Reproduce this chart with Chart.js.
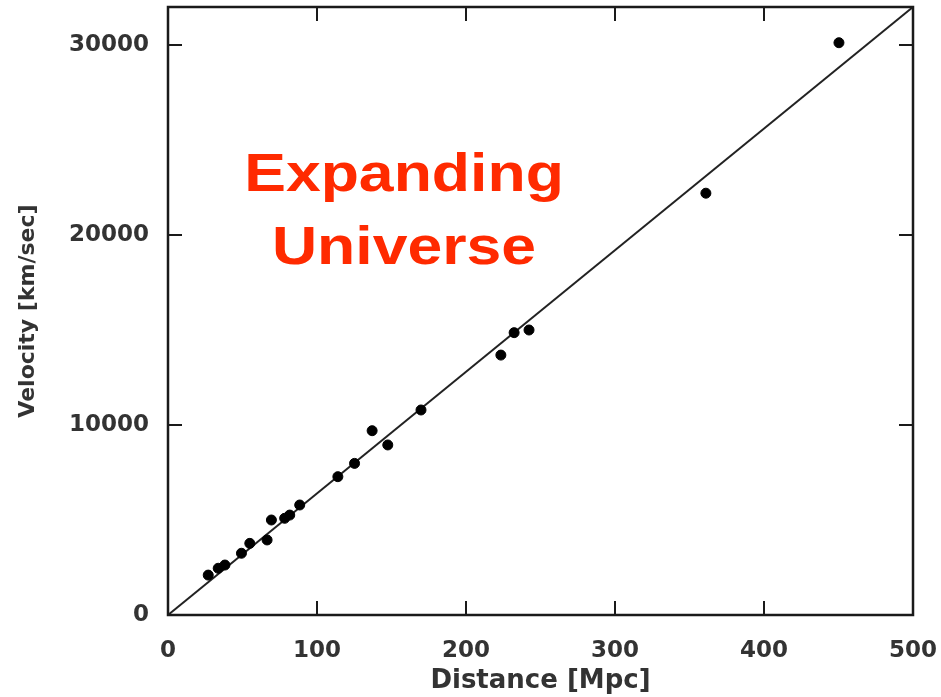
<!DOCTYPE html>
<html>
<head>
<meta charset="utf-8">
<script src="https://cdn.jsdelivr.net/npm/chart.js@4.4.1/dist/chart.umd.min.js"></script>
<style>
  html, body { margin: 0; padding: 0; background: #fff; }
  canvas { display: block; }
</style>
</head>
<body>
<canvas id="chart-hubble" width="941" height="697"></canvas>
<script>
// galaxy distances (Mpc) and recession velocities (km/sec)
const distance = [27, 33.7, 38.2, 49.3, 54.9, 66.5, 69.4, 78.3, 81.7, 88.4, 114, 125.2, 137, 147.5, 169.8, 223.4, 232.3, 242.3, 361, 450.3];
const velocity = [2100, 2460, 2630, 3250, 3770, 3950, 5000, 5090, 5260, 5790, 7280, 7980, 9700, 8950, 10790, 13680, 14860, 15000, 22200, 30120];

// straight-line fit through the origin
const fitDistance = [0, 500];
const fitVelocity = [0, 32000];

const xTicks = [0, 100, 200, 300, 400, 500];
const yTicks = [0, 10000, 20000, 30000];
const overlayLines = ['Expanding', 'Universe'];

const INK = '#1a1a1a';
const LABEL = '#333333';

// box round the plot with inward ticks on all four sides
const framePlugin = {
  id: 'frame',
  afterDatasetsDraw(chart) {
    const { ctx, chartArea: a, scales: { x, y } } = chart;
    const len = 14;
    ctx.save();
    ctx.strokeStyle = INK;
    ctx.lineWidth = 2.5;
    ctx.strokeRect(a.left, a.top, a.right - a.left, a.bottom - a.top);
    ctx.lineWidth = 2;
    ctx.beginPath();
    xTicks.forEach(v => {
      const px = x.getPixelForValue(v);
      ctx.moveTo(px, a.bottom); ctx.lineTo(px, a.bottom - len);
      ctx.moveTo(px, a.top); ctx.lineTo(px, a.top + len);
    });
    yTicks.forEach(v => {
      const py = y.getPixelForValue(v);
      ctx.moveTo(a.left, py); ctx.lineTo(a.left + len, py);
      ctx.moveTo(a.right, py); ctx.lineTo(a.right - len, py);
    });
    ctx.stroke();
    ctx.restore();
  }
};

// big red caption inside the plot
const captionPlugin = {
  id: 'caption',
  afterDraw(chart) {
    const { ctx } = chart;
    const baselines = [191, 264];
    ctx.save();
    ctx.fillStyle = '#ff2a00';
    ctx.font = 'bold 53px "Liberation Sans", Arial, sans-serif';
    ctx.textAlign = 'center';
    ctx.textBaseline = 'alphabetic';
    overlayLines.forEach((txt, i) => {
      ctx.save();
      ctx.translate(404, baselines[i]);
      ctx.scale(1.18, 1);
      ctx.fillText(txt, 0, 0);
      ctx.restore();
    });
    ctx.restore();
  }
};

const tickFont = { family: '"DejaVu Sans", sans-serif', size: 23, weight: 'bold' };
const plain = v => String(v);

new Chart(document.getElementById('chart-hubble'), {
  type: 'scatter',
  data: {
    datasets: [
      {
        label: 'Galaxies',
        data: distance.map((d, i) => ({ x: d, y: velocity[i] })),
        backgroundColor: '#000', borderColor: '#000',
        pointRadius: 5, pointBorderWidth: 1, pointStyle: 'circle'
      },
      {
        label: 'Fit',
        type: 'line',
        data: fitDistance.map((d, i) => ({ x: d, y: fitVelocity[i] })),
        borderColor: '#222', borderWidth: 2, pointRadius: 0, fill: false, tension: 0
      }
    ]
  },
  options: {
    responsive: false, animation: false, devicePixelRatio: 1,
    layout: { padding: { top: 7, right: 28, bottom: 0, left: 0 } },
    plugins: { legend: { display: false }, tooltip: { enabled: false } },
    scales: {
      x: {
        type: 'linear', min: 0, max: 500,
        grid: { display: false, drawTicks: false }, border: { display: false },
        afterBuildTicks: s => { s.ticks = xTicks.map(v => ({ value: v })); },
        afterFit: s => { s.height = 82; s.paddingLeft = 0; s.paddingRight = 0; },
        ticks: { color: LABEL, font: tickFont, padding: 22, maxRotation: 0, autoSkip: false, callback: plain },
        title: { display: true, text: 'Distance [Mpc]', color: LABEL, padding: { top: 0, bottom: 0 },
                 font: { family: '"DejaVu Sans", sans-serif', size: 26, weight: 'bold' } }
      },
      y: {
        type: 'linear', min: 0, max: 32000,
        grid: { display: false, drawTicks: false }, border: { display: false },
        afterBuildTicks: s => { s.ticks = yTicks.map(v => ({ value: v })); },
        afterFit: s => { s.width = 168; s.paddingTop = 0; s.paddingBottom = 0; },
        ticks: { color: LABEL, font: tickFont, padding: 19, autoSkip: false, callback: plain },
        title: { display: true, text: 'Velocity [km/sec]', color: LABEL, padding: { top: 15, bottom: 0 },
                 font: { family: '"DejaVu Sans", sans-serif', size: 22, weight: 'bold' } }
      }
    }
  },
  plugins: [framePlugin, captionPlugin]
});
</script>
</body>
</html>
